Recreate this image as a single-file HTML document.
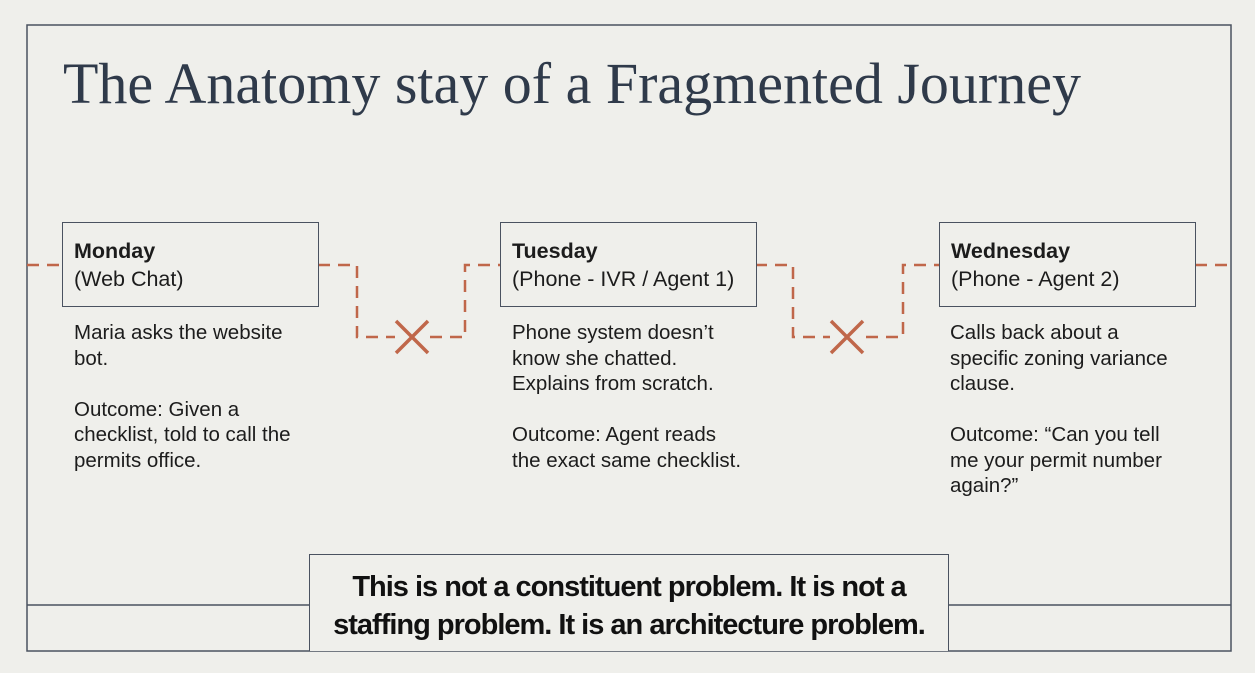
<!DOCTYPE html>
<html><head><style>
body{margin:0;width:1255px;height:673px;background:#efefeb;position:relative;overflow:hidden;font-family:"Liberation Sans",sans-serif;color:#1c1c1c}
.t{position:absolute;left:63px;top:50px;font-family:"Liberation Serif",serif;font-size:58px;color:#2f3a4a;white-space:nowrap;letter-spacing:0px}
.box{position:absolute;top:222px;width:257px;height:85px;border:1.5px solid #4a5260;background:#efefeb;box-sizing:border-box;padding:14px 0 0 11px;font-size:21.5px;line-height:28px}
.box b{font-weight:bold}
.d{position:absolute;top:320px;font-size:20.5px;line-height:25.5px;white-space:nowrap}
.bot{position:absolute;left:309px;top:554px;width:640px;height:97px;border:1.5px solid #4a5260;border-bottom:none;box-sizing:border-box;background:#efefeb;text-align:center;font-weight:bold;font-size:29px;line-height:38px;padding-top:13px;letter-spacing:-1px;color:#111}
</style></head><body>
<svg width="1255" height="673" style="position:absolute;left:0;top:0">
<rect x="27" y="25" width="1204" height="626" fill="none" stroke="#4a5260" stroke-width="1.5"/>
<line x1="27" y1="605" x2="1231" y2="605" stroke="#4a5260" stroke-width="1.5"/>
<g fill="none" stroke="#c0674a" stroke-width="2.5" stroke-dasharray="12,8">
<path d="M27 265H62"/>
<path d="M318 265H357V337H395"/>
<path d="M430 337H465V265H500"/>
<path d="M755 265H793V337H830"/>
<path d="M866 337H903V265H939"/>
<path d="M1195 265H1231"/>
</g>
<g stroke="#c0674a" stroke-width="3.5">
<path d="M396 321L428 353M428 321L396 353"/>
<path d="M831 321L863 353M863 321L831 353"/>
</g>
</svg>
<div class="t">The Anatomy stay of a Fragmented Journey</div>
<div class="box" style="left:62px"><b>Monday</b><br>(Web Chat)</div>
<div class="box" style="left:500px"><b>Tuesday</b><br>(Phone - IVR / Agent 1)</div>
<div class="box" style="left:939px"><b>Wednesday</b><br>(Phone - Agent 2)</div>
<div class="d" style="left:74px">Maria asks the website<br>bot.<br><br>Outcome: Given a<br>checklist, told to call the<br>permits office.</div>
<div class="d" style="left:512px">Phone system doesn’t<br>know she chatted.<br>Explains from scratch.<br><br>Outcome: Agent reads<br>the exact same checklist.</div>
<div class="d" style="left:950px">Calls back about a<br>specific zoning variance<br>clause.<br><br>Outcome: “Can you tell<br>me your permit number<br>again?”</div>
<div class="bot">This is not a constituent problem. It is not a<br>staffing problem. It is an architecture problem.</div>
</body></html>
